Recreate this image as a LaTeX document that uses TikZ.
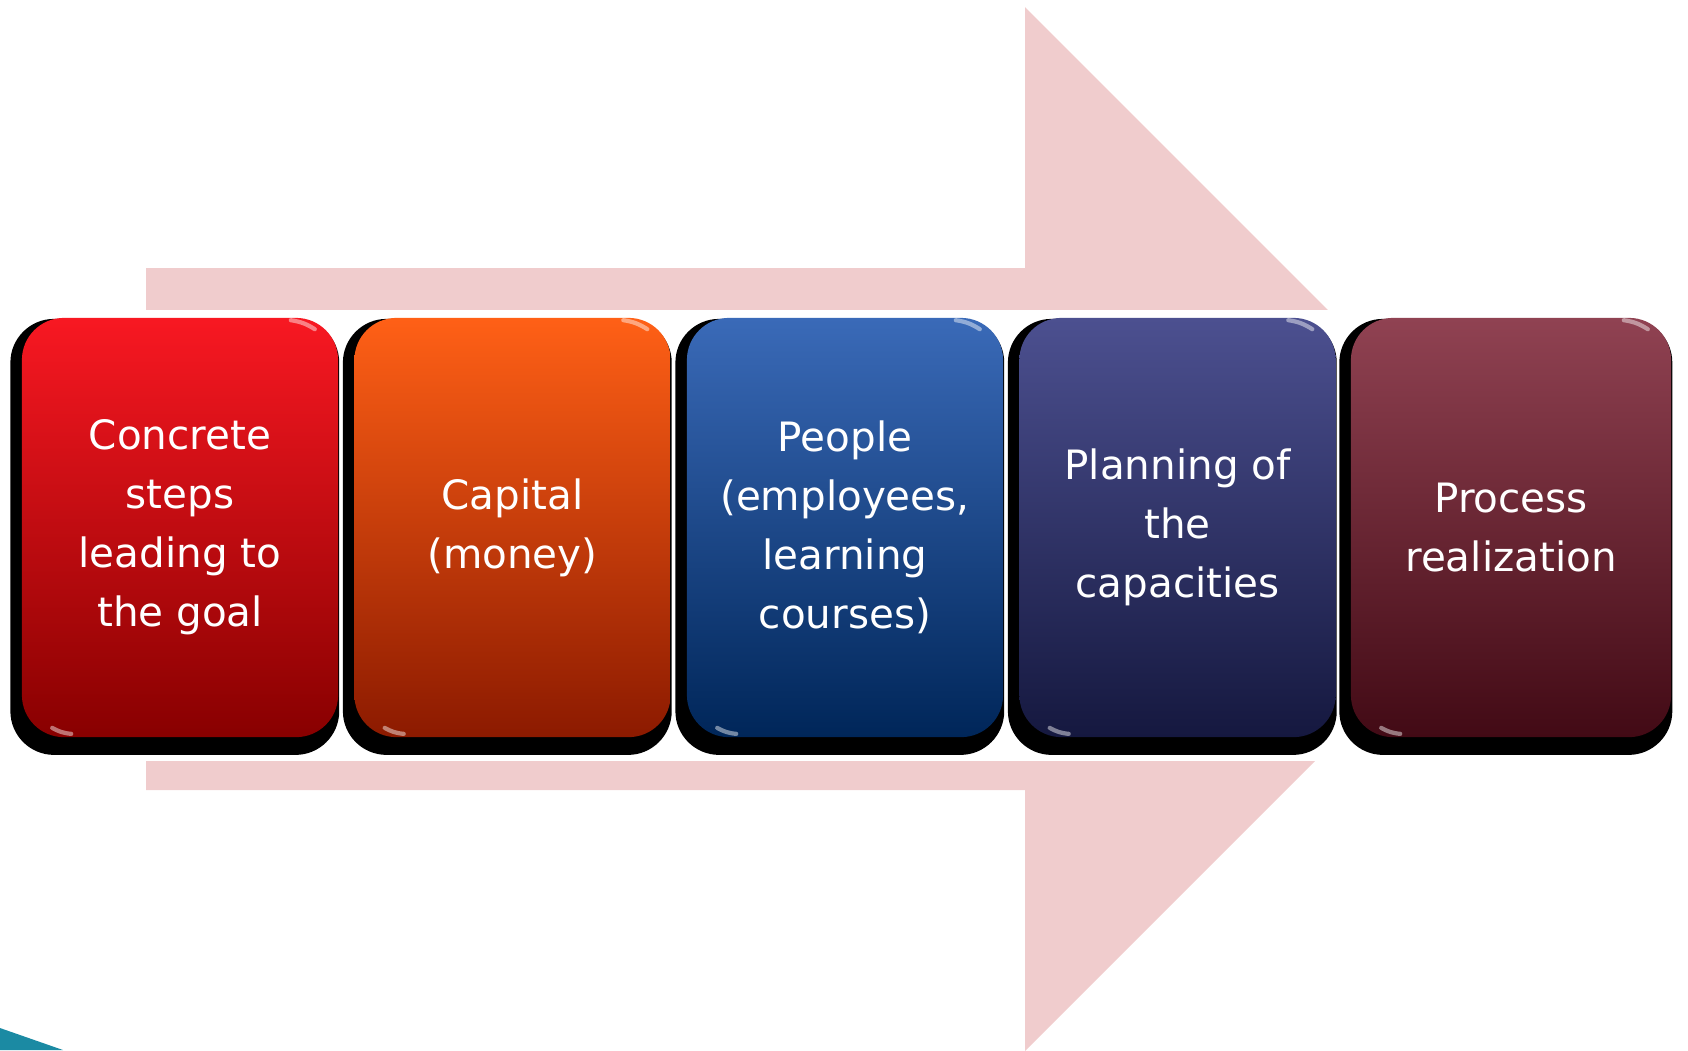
\documentclass[tikz,border=0pt]{standalone}
\usepackage{fontspec}
\setmainfont{DejaVu Sans}
\usetikzlibrary{shadows}

\definecolor{arrowpink}{RGB}{240,204,205}
\definecolor{cornerteal}{RGB}{27,138,163}
\definecolor{redtop}{RGB}{248,24,34}
\definecolor{redbot}{RGB}{136,0,0}
\definecolor{orangetop}{RGB}{255,96,22}
\definecolor{orangebot}{RGB}{140,26,0}
\definecolor{bluetop}{RGB}{58,106,184}
\definecolor{bluebot}{RGB}{0,38,89}
\definecolor{navytop}{RGB}{76,80,144}
\definecolor{navybot}{RGB}{21,24,63}
\definecolor{maroontop}{RGB}{144,66,82}
\definecolor{maroonbot}{RGB}{66,10,21}

\begin{document}
\begin{tikzpicture}
  [x=0.01cm,y=-0.01cm,
   stage/.style={rounded corners=0.42cm,minimum width=3.16cm,minimum height=4.19cm,
     inner sep=0pt,text=white,align=center,
     font=\fontsize{11.5pt}{16.8pt}\selectfont,
     general shadow={fill=black,shadow scale=1.04,shadow xshift=-0.05cm,shadow yshift=-0.09cm}},
   glint/.style={white,opacity=0.45,line width=1.2pt,line cap=round}]
  \useasboundingbox (0,0) rectangle (1688,1050);

  % big arrow behind the boxes
  \fill[arrowpink] (146,268) -- (1025,268) -- (1025,7) -- (1547,529)
    -- (1025,1051) -- (1025,790) -- (146,790) -- cycle;
  \fill[white] (0,310) rectangle (1688,761);
  \fill[cornerteal] (0,1028) -- (63,1050) -- (0,1050) -- cycle;

  \node (steps) at (180,527.5) [stage,top color=redtop,bottom color=redbot]
    {Concrete\\steps\\leading to\\the goal};
  \node (capital) at (512.5,527.5) [stage,top color=orangetop,bottom color=orangebot]
    {Capital\\(money)};
  \node (people) at (845,527.5) [stage,top color=bluetop,bottom color=bluebot]
    {People\\(employees,\\learning\\courses)};
  \node (planning) at (1177.5,527.5) [stage,top color=navytop,bottom color=navybot]
    {Planning of\\the\\capacities};
  \node (realization) at (1511,527.5) [stage,minimum width=3.2cm,top color=maroontop,bottom color=maroonbot]
    {Process\\realization};

  % highlights on the corners
  \foreach \n in {steps,capital,people,planning,realization} {
    \draw[glint] ([shift={(-48,3)}]\n.north east) to[bend left=12] ([shift={(-24,12)}]\n.north east);
    \draw[glint] ([shift={(31,-10)}]\n.south west) to[bend right=12] ([shift={(50,-4)}]\n.south west);
  }
\end{tikzpicture}
\end{document}
